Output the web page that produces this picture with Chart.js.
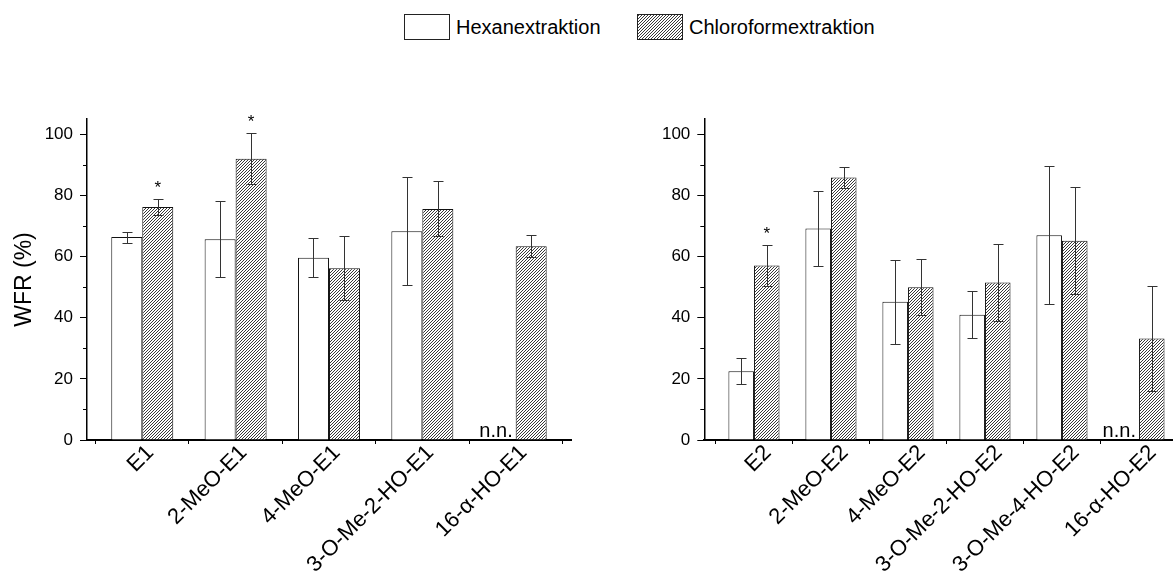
<!DOCTYPE html>
<html>
<head>
<meta charset="utf-8">
<script src="https://cdn.jsdelivr.net/npm/chart.js@4.4.1/dist/chart.umd.min.js"></script>
<style>
  body { margin: 0; width: 1173px; height: 574px; overflow: hidden; background: #fff; position: relative;
         font-family: "Liberation Sans", Arial, sans-serif; }
  .panel { position: absolute; top: 0; height: 574px; }
  #left { left: 0; width: 600px; }
  #right { left: 600px; width: 573px; }
  .swatch { position: absolute; top: 14px; }
  .legend-text { position: absolute; top: 14px; height: 26px; line-height: 26px; font-size: 20px; color: #000; }
</style>
</head>
<body>
<canvas class="swatch" id="sw1" width="46" height="26" style="left:404px"></canvas>
<div class="legend-text" style="left:456px">Hexanextraktion</div>
<canvas class="swatch" id="sw2" width="46" height="26" style="left:637px"></canvas>
<div class="legend-text" style="left:689px">Chloroformextraktion</div>
<div class="panel" id="left"><canvas id="chartE1"></canvas></div>
<div class="panel" id="right"><canvas id="chartE2"></canvas></div>
<script>
// data, estrone group
const catsE1 = ['E1', '2-MeO-E1', '4-MeO-E1', '3-O-Me-2-HO-E1', '16-α-HO-E1'];
const hexE1 = [66.4, 65.7, 59.6, 68.3, null];
const hexE1Err = [1.8, 12.4, 6.4, 17.6, null];
const chlE1 = [76.2, 92.0, 56.2, 75.6, 63.4];
const chlE1Err = [2.6, 8.4, 10.5, 9.0, 3.6];
const starsE1 = [true, true, false, false, false];

// data, estradiol group
const catsE2 = ['E2', '2-MeO-E2', '4-MeO-E2', '3-O-Me-2-HO-E2', '3-O-Me-4-HO-E2', '16-α-HO-E2'];
const hexE2 = [22.5, 69.2, 45.2, 41.0, 67.0, null];
const hexE2Err = [4.2, 12.4, 13.7, 7.6, 22.6, null];
const chlE2 = [57.1, 85.9, 50.0, 51.5, 65.2, 33.2];
const chlE2Err = [6.7, 3.5, 9.1, 12.6, 17.5, 17.2];
const starsE2 = [true, false, false, false, false, false];

const yTicks = [0, 20, 40, 60, 80, 100];
const yMinorTicks = [10, 30, 50, 70, 90];

const FONT = '"Liberation Sans", Arial, sans-serif';

function make_hatch(ctx) {
    // small tile with one "/" line
    let tile = document.createElement('canvas');
    tile.width = 3;
    tile.height = 3;
    let t = tile.getContext('2d');
    t.fillStyle = '#fff';
    t.fillRect(0, 0, 3, 3);
    t.strokeStyle = '#222';
    t.lineWidth = 0.9;
    t.beginPath();
    t.moveTo(-1, 4); t.lineTo(4, -1);
    t.moveTo(-1, 1); t.lineTo(1, -1);
    t.moveTo(2, 4); t.lineTo(4, 2);
    t.stroke();
    return ctx.createPattern(tile, 'repeat');
}

// legend swatches
function draw_swatch(id, hatched) {
    let c = document.getElementById(id);
    let ctx = c.getContext('2d');
    ctx.fillStyle = hatched ? make_hatch(ctx) : '#fff';
    ctx.fillRect(0, 0, 46, 26);
    ctx.strokeStyle = '#222';
    ctx.lineWidth = 1;
    ctx.strokeRect(0.5, 0.5, 45, 25);
}
draw_swatch('sw1', false);
draw_swatch('sw2', true);

// error bars, stars, n.n. and minor ticks
const extrasPlugin = {
    id: 'extras',
    afterDatasetsDraw(chart) {
        const ctx = chart.ctx;
        const yScale = chart.scales.y;
        const y0 = yScale.getPixelForValue(0);
        ctx.save();
        chart.data.datasets.forEach((ds, di) => {
            const meta = chart.getDatasetMeta(di);
            meta.data.forEach((bar, i) => {
                const v = ds.data[i].y;
                const e = ds.errors[i];
                if (v == null) {
                    // not detected
                    const other = chart.getDatasetMeta(1 - di).data[i];
                    const p = other.getProps(['x', 'width']);
                    ctx.fillStyle = '#000';
                    ctx.font = '20px ' + FONT;
                    ctx.textAlign = 'right';
                    ctx.textBaseline = 'alphabetic';
                    ctx.fillText('n.n.', p.x - p.width / 2 - 3, y0 - 3);
                    return;
                }
                const x = Math.round(bar.x) + 0.5;
                const top = Math.round(yScale.getPixelForValue(v + e)) + 0.5;
                const bot = Math.round(yScale.getPixelForValue(v - e)) + 0.5;
                ctx.strokeStyle = '#333';
                ctx.lineWidth = 1;
                ctx.beginPath();
                ctx.moveTo(x, top); ctx.lineTo(x, bot);
                ctx.moveTo(x - 5, top); ctx.lineTo(x + 5, top);
                ctx.moveTo(x - 5, bot); ctx.lineTo(x + 5, bot);
                ctx.stroke();
                if (ds.stars && ds.stars[i]) {
                    ctx.fillStyle = '#000';
                    ctx.font = '17px ' + FONT;
                    ctx.textAlign = 'center';
                    ctx.textBaseline = 'alphabetic';
                    ctx.fillText('*', bar.x, top - 7);
                }
            });
        });
        // minor ticks on y
        const left = chart.chartArea.left;
        ctx.strokeStyle = '#000';
        ctx.lineWidth = 1;
        ctx.beginPath();
        yMinorTicks.forEach(t => {
            const py = Math.round(yScale.getPixelForValue(t)) + 0.5;
            ctx.moveTo(left - 4, py);
            ctx.lineTo(left, py);
        });
        ctx.stroke();
        ctx.restore();
    }
};

function make_chart(id, cats, hex, hexErr, chl, chlErr, stars, axisWidth, xMin, xMax, padRight, labelShift, showTitle) {
    const canvas = document.getElementById(id);
    const ctx = canvas.getContext('2d');
    const hatch = make_hatch(ctx);
    const data = {
        datasets: [{
            label: 'Hexanextraktion',
            data: hex.map((v, i) => ({ x: i, y: v })),
            errors: hexErr,
            backgroundColor: '#fff',
            borderColor: '#111',
            borderWidth: 1,
            categoryPercentage: 0.664,
            barPercentage: 1
        }, {
            label: 'Chloroformextraktion',
            data: chl.map((v, i) => ({ x: i, y: v })),
            errors: chlErr,
            stars: stars,
            backgroundColor: hatch,
            borderColor: '#111',
            borderWidth: 1,
            categoryPercentage: 0.664,
            barPercentage: 1
        }]
    };
    const config = {
        type: 'bar',
        data: data,
        plugins: [extrasPlugin],
        options: {
            responsive: true,
            maintainAspectRatio: false,
            animation: false,
            layout: { padding: { left: 0, top: 119, right: padRight, bottom: 0 } },
            plugins: { legend: { display: false }, tooltip: { enabled: false } },
            scales: {
                x: {
                    type: 'linear',
                    min: xMin,
                    max: xMax,
                    offset: false,
                    afterBuildTicks: s => { s.ticks = cats.map((c, i) => ({ value: i })); },
                    afterFit: s => { s.height = 134; },
                    border: { color: '#000', width: 2 },
                    grid: { drawOnChartArea: false, tickLength: 4, tickColor: '#000', tickWidth: 1 },
                    ticks: {
                        autoSkip: false,
                        maxRotation: 45,
                        minRotation: 45,
                        padding: -4,
                        labelOffset: labelShift,
                        color: '#000',
                        font: { family: FONT, size: 22 },
                        callback: v => cats[v]
                    }
                },
                y: {
                    min: 0,
                    max: 105,
                    afterBuildTicks: s => { s.ticks = yTicks.map(v => ({ value: v })); },
                    afterFit: s => { s.width = axisWidth; },
                    border: { color: '#000', width: 1.5 },
                    grid: { drawOnChartArea: false, tickLength: 7, tickColor: '#000', tickWidth: 1 },
                    ticks: { padding: 7, color: '#000', font: { family: FONT, size: 17 } },
                    title: {
                        display: showTitle,
                        text: 'WFR (%)',
                        color: '#000',
                        font: { family: FONT, size: 23 },
                        padding: { top: 11, bottom: 0 }
                    }
                }
            }
        }
    };
    return new Chart(canvas, config);
}

make_chart('chartE1', catsE1, hexE1, hexE1Err, chlE1, chlE1Err, starsE1, 87, -0.592, 4.6, 28.3, 8, true);
make_chart('chartE2', catsE2, hexE2, hexE2Err, chlE2, chlE2Err, starsE2, 104.3, -0.645, 5.442, 0, 14, false);
</script>
</body>
</html>
